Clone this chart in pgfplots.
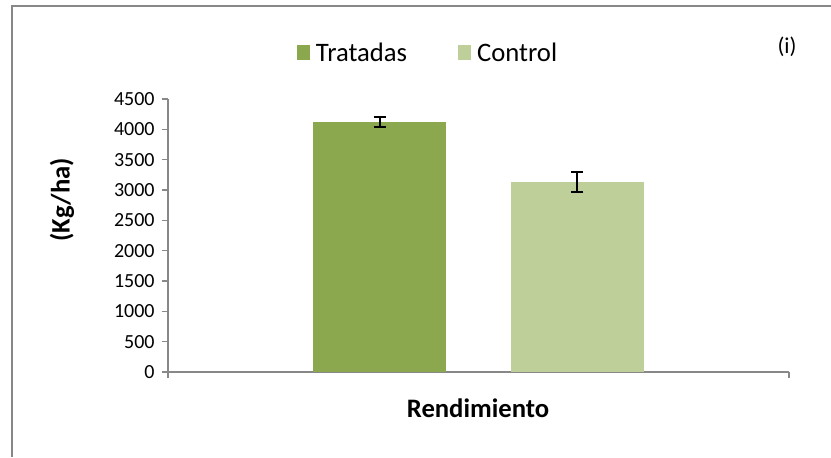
\documentclass[border=0pt]{standalone}
\usepackage{pgfplots}
\pgfplotsset{compat=1.18}
\usepackage{fontspec}
\setmainfont{Carlito}
\definecolor{trat}{HTML}{8BA84E}
\definecolor{ctrl}{HTML}{BFCF99}
\definecolor{axgray}{HTML}{888888}
\begin{document}
\begin{tikzpicture}
\path[use as bounding box] (0,0) rectangle (623.25pt,342.75pt);
\draw[axgray, line width=1.5pt] (9pt,0pt) -- (9pt,338.25pt) -- (623.25pt,338.25pt);
\begin{axis}[
  at={(126pt,63.75pt)}, anchor=origin,
  scale only axis, width=465.75pt, height=204.75pt,
  xmin=0, xmax=1, ymin=0, ymax=4500,
  axis lines=left, axis line style={-, axgray, line width=1pt},
  xtick={0,1}, xticklabels={}, 
  ytick={0,500,...,4500},
  tick align=outside, major tick length=4.5pt,
  tick style={axgray, line width=1pt},
  /pgf/number format/assume math mode=true,
  /pgf/number format/1000 sep={},
  ticklabel style={font=\fontsize{15}{15}\selectfont},
  yticklabel style={xshift=-2pt},
  legend columns=2,
  legend style={draw=none, fill=none, at={(0.419,1.168)}, anchor=center,
    font=\fontsize{20}{20}\selectfont, inner sep=0pt,
    /tikz/every odd column/.append style={column sep=2.5pt},
    /tikz/every even column/.append style={column sep=36pt}},
  legend cell align=left,
  legend image code/.code={\fill[#1] (0pt,-5pt) rectangle (10pt,6pt);},
  clip=false,
]
\addplot[ybar, bar width=99.75pt, bar shift=0pt, fill=trat, draw=none,
  error bars/.cd, y dir=both, y explicit,
  error bar style={black, line width=1.5pt},
  error mark options={rotate=90, mark size=4.5pt, line width=1.5pt, black}]
  coordinates {(0.3406,4120) +- (0,85)};
\addlegendentry{Tratadas}
\addplot[ybar, bar width=99.75pt, bar shift=0pt, fill=ctrl, draw=none,
  error bars/.cd, y dir=both, y explicit,
  error bar style={black, line width=1.5pt},
  error mark options={rotate=90, mark size=4.5pt, line width=1.5pt, black}]
  coordinates {(0.6594,3132) +- (0,170)};
\addlegendentry{Control}
\end{axis}
\node[font=\bfseries\fontsize{20}{20}\selectfont] at (358.5pt,36.75pt) {Rendimiento};
\node[font=\bfseries\fontsize{20}{20}\selectfont, rotate=90] at (46.5pt,192.75pt) {(Kg/ha)};
\node[font=\fontsize{17}{17}\selectfont] at (590.25pt,307.5pt) {(i)};
\end{tikzpicture}
\end{document}
